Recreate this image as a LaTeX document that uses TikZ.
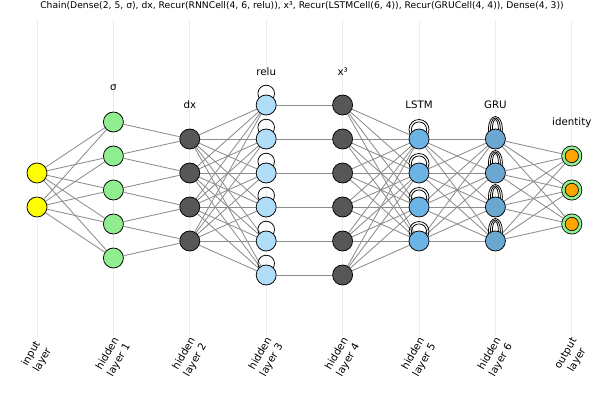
\documentclass[tikz,border=0pt]{standalone}
\usepackage{fontspec}
\setmainfont{DejaVu Sans}
\usetikzlibrary{backgrounds,calc}
\definecolor{inyellow}{HTML}{FFFF00}
\definecolor{siggreen}{HTML}{90EE90}
\definecolor{dxgray}{HTML}{575757}
\definecolor{rnnblue}{HTML}{B0DEF9}
\definecolor{lstmblue}{HTML}{6DB4E6}
\definecolor{grublue}{HTML}{6CA7D2}
\definecolor{outorange}{HTML}{FFA500}
\definecolor{edgegray}{HTML}{8C8C8C}
\definecolor{gridgray}{HTML}{EDEDED}
\tikzset{
	neuron/.style={circle,draw=black,line width=0.55pt,inner sep=0pt,minimum size=0.5cm},
	outneuron/.style={neuron,fill=outorange,double=siggreen,double distance=1.8pt,minimum size=0.42cm},
	synapse/.style={draw=edgegray,line width=0.6pt},
	recloop/.style={draw=black,line width=0.55pt},
	gridline/.style={draw=gridgray,line width=0.5pt},
	actlabel/.style={font=\fontsize{7.3}{8.5}\selectfont,inner sep=0pt},
	titlelabel/.style={font=\fontsize{6.55}{8}\selectfont,inner sep=0pt},
	ticklabel/.style={font=\fontsize{7.3}{9.2}\selectfont,align=center,rotate=60,inner sep=0pt},
}
\begin{document}
\begin{tikzpicture}[x=0.025cm,y=-0.025cm]
	\useasboundingbox (0,0) rectangle (600,400);
	\foreach \l/\cnt/\col in {0/2/inyellow,1/5/siggreen,2/4/dxgray,3/6/rnnblue,4/6/dxgray,5/4/lstmblue,6/4/grublue}
		\foreach \j in {1,...,\cnt} {
			\pgfmathsetmacro\xx{37+76.4*\l}
			\pgfmathsetmacro\yy{190+(\j-(\cnt+1)/2)*34}
			\node[neuron,fill=\col] (n\l-\j) at (\xx,\yy) {};
		}
	\foreach \j in {1,2,3} {
		\pgfmathsetmacro\yy{190+(\j-2)*34}
		\node[outneuron] (n7-\j) at (571.8,\yy) {};
	}
	\begin{scope}[on background layer]
		\foreach \l in {0,...,7}
			\draw[gridline] (37+76.4*\l,20) -- (37+76.4*\l,336);
		\foreach \a/\b/\na/\nb in {0/1/2/5,2/3/4/6,4/5/6/4,5/6/4/4,6/7/4/3}
			\foreach \i in {1,...,\na}
				\foreach \k in {1,...,\nb}
					\draw[synapse] (n\a-\i) -- (n\b-\k);
		\foreach \j in {1,...,4} {
			\pgfmathtruncatemacro\jj{\j+1}
			\draw[synapse] (n1-\j) -- (n2-\j);
			\draw[synapse] (n1-\jj) -- (n2-\j);
		}
		\foreach \j in {1,...,6}
			\draw[synapse] (n3-\j) -- (n4-\j);
		\foreach \j in {1,...,6}
			\draw[recloop] ($(n3-\j)+(0,-11.5)$) circle (8.3);
		\foreach \j in {1,...,4} {
			\draw[recloop] ($(n5-\j)+(0,-9.5)$) circle (10);
			\draw[recloop] ($(n5-\j)+(0,-9.5)$) circle (7.6);
			\draw[recloop] ($(n6-\j)+(0,-10)$) ellipse (7 and 12.5);
			\draw[recloop] ($(n6-\j)+(0,-10)$) ellipse (5 and 11);
			\draw[recloop] ($(n6-\j)+(0,-10)$) ellipse (3 and 9.5);
		}
	\end{scope}
	\node[actlabel] (act1) at (113.4,88) {σ};
	\node[actlabel] (act2) at (189.8,105) {dx};
	\node[actlabel] (act3) at (266.2,72) {relu};
	\node[actlabel] (act4) at (342.6,72) {x³};
	\node[actlabel] (act5) at (419,105) {LSTM};
	\node[actlabel] (act6) at (495.4,105) {GRU};
	\node[actlabel] (act7) at (571.8,123) {identity};
	\node[ticklabel] (tick0) at (37,357) {input\\layer};
	\node[ticklabel] (tick1) at (113.4,357) {hidden\\layer 1};
	\node[ticklabel] (tick2) at (189.8,357) {hidden\\layer 2};
	\node[ticklabel] (tick3) at (266.2,357) {hidden\\layer 3};
	\node[ticklabel] (tick4) at (342.6,357) {hidden\\layer 4};
	\node[ticklabel] (tick5) at (419,357) {hidden\\layer 5};
	\node[ticklabel] (tick6) at (495.4,357) {hidden\\layer 6};
	\node[ticklabel] (tick7) at (571.8,357) {output\\layer};
	\node[titlelabel] (title) at (302,6) {Chain(Dense(2, 5, σ), dx, Recur(RNNCell(4, 6, relu)), x³, Recur(LSTMCell(6, 4)), Recur(GRUCell(4, 4)), Dense(4, 3))};
\end{tikzpicture}
\end{document}
